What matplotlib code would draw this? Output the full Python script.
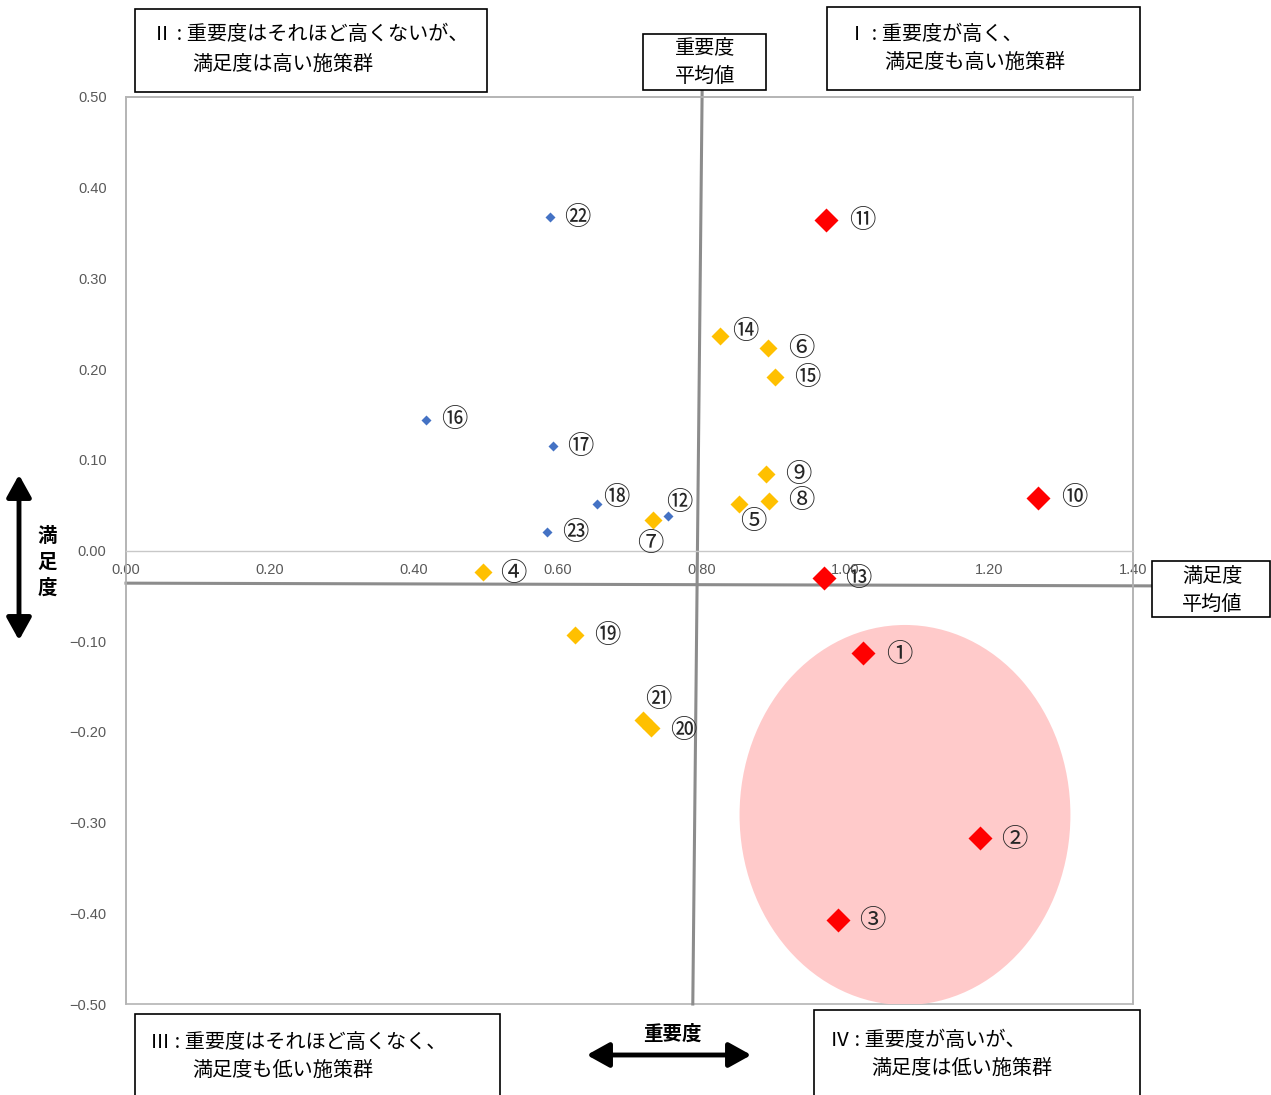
import matplotlib
matplotlib.use("Agg")
import matplotlib.pyplot as plt
from matplotlib.patches import Ellipse, Rectangle, FancyArrowPatch

plt.rcParams['font.family'] = ['Noto Sans CJK JP', 'DejaVu Sans']

# ---------------- data ----------------
red_labels = ['①', '②', '③', '⑩', '⑪', '⑬']
red_x = [1.025, 1.187, 0.990, 1.268, 0.973, 0.970]
red_y = [-0.113, -0.317, -0.407, 0.058, 0.364, -0.030]

yellow_labels = ['④', '⑤', '⑥', '⑦', '⑧', '⑨', '⑭', '⑮', '⑲', '⑳', '㉑']
yellow_x = [0.496, 0.852, 0.893, 0.733, 0.894, 0.890, 0.826, 0.902, 0.624, 0.730, 0.719]
yellow_y = [-0.024, 0.051, 0.223, 0.034, 0.055, 0.084, 0.236, 0.191, -0.093, -0.196, -0.187]

blue_labels = ['⑫', '⑯', '⑰', '⑱', '㉒', '㉓']
blue_x = [0.753, 0.417, 0.594, 0.655, 0.589, 0.585]
blue_y = [0.038, 0.144, 0.115, 0.051, 0.368, 0.020]

x_ticks = [0.0, 0.2, 0.4, 0.6, 0.8, 1.0, 1.2, 1.4]
y_ticks = [-0.5, -0.4, -0.3, -0.2, -0.1, 0.0, 0.1, 0.2, 0.3, 0.4, 0.5]

# average lines (importance mean, satisfaction mean) as drawn in the source
imp_mean_x = [0.801, 0.788]
imp_mean_y = [0.508, -0.5]
sat_mean_x = [0.0, 1.426]
sat_mean_y = [-0.036, -0.039]

# label offsets in pixels (style)
offsets = {
    '①': (36, -2), '②': (34, -1), '③': (34, -1), '④': (31, -1), '⑤': (14, -17),
    '⑥': (33, 0), '⑦': (-3, -24), '⑧': (32, 0), '⑨': (32, 0), '⑩': (36, 0),
    '⑪': (36, 0), '⑫': (12, 14), '⑬': (35, -1), '⑭': (25, 5), '⑮': (32, 0),
    '⑯': (28, 0), '⑰': (27, 0), '⑱': (19, 7), '⑲': (32, -1), '⑳': (32, -2),
    '㉑': (15, 21), '㉒': (28, -1), '㉓': (28, 0),
}

W, H = 1271, 1095
fig = plt.figure(figsize=(W / 100, H / 100), dpi=100)
ax = fig.add_axes([126 / W, 1 - 1004 / H, (1133 - 126) / W, (1004 - 97) / H])
ax.set_xlim(0, 1.4)
ax.set_ylim(-0.5, 0.5)

spine_c = '#b4b4b4'
for s in ax.spines.values():
    s.set_color(spine_c)
    s.set_linewidth(1.2)
ax.spines['bottom'].set_position(('data', 0))
ax.spines['bottom'].set_color('#c8c8c8')
ax.spines['bottom'].set_linewidth(1.0)
# outer frame bottom edge
ax.add_patch(Rectangle((0, 0), 1, 1, transform=ax.transAxes, fill=False,
                       edgecolor=spine_c, lw=1.2, clip_on=False, zorder=0.5))

ax.set_yticks(y_ticks)
ax.set_yticklabels([f"{v:.2f}".replace('-', '\u2212') for v in y_ticks])
ax.tick_params(axis='y', length=0, pad=14, labelsize=10.5, labelcolor='#595959')
ax.set_xticks(x_ticks)
ax.set_xticklabels([f"{v:.2f}" for v in x_ticks])
ax.tick_params(axis='x', length=0, pad=9, labelsize=10.5, labelcolor='#595959')
for t in ax.get_yticklabels() + ax.get_xticklabels():
    t.set_fontfamily(['Liberation Sans', 'DejaVu Sans'])

# highlight ellipse
ax.add_patch(Ellipse((1.083, -0.2916), 0.460, 0.419, facecolor='#ffcaca',
                     edgecolor='none', zorder=1))

# mean lines
ax.plot(imp_mean_x, imp_mean_y, color='#8c8c8c', lw=2.2, clip_on=False, zorder=2)
ax.plot(sat_mean_x, sat_mean_y, color='#8c8c8c', lw=2.2, clip_on=False, zorder=2)

# points
ax.plot(red_x, red_y, 'D', color='#ff0000', markersize=12.5, mec='none', zorder=4, clip_on=False)
ax.plot(yellow_x, yellow_y, 'D', color='#ffc000', markersize=9.5, mec='none', zorder=4, clip_on=False)
ax.plot(blue_x, blue_y, 'D', color='#4472c4', markersize=5.2, mec='none', zorder=4, clip_on=False)

for labs, xs, ys in [(red_labels, red_x, red_y), (yellow_labels, yellow_x, yellow_y),
                     (blue_labels, blue_x, blue_y)]:
    for lab, xv, yv in zip(labs, xs, ys):
        dx, dy = offsets[lab]
        ax.annotate(lab, (xv, yv), xytext=(dx * 0.72, dy * 0.72), textcoords='offset points',
                    ha='center', va='center', fontsize=19, color='#262626', zorder=5)


def P(x, y):
    return x / W, 1 - y / H


def box(x0, y0, x1, y1):
    fig.patches.append(Rectangle(P(x0, y1), (x1 - x0) / W, (y1 - y0) / H,
                                 transform=fig.transFigure, facecolor='white',
                                 edgecolor='black', lw=1.2, zorder=3))


fs = 14.5
box(135, 9, 487, 92)
fig.text(*P(152, 35), 'Ⅱ : 重要度はそれほど高くないが、', fontsize=fs, va='center', ha='left', zorder=6)
fig.text(*P(192, 64), '満足度は高い施策群', fontsize=fs, va='center', ha='left', zorder=6)

box(643, 34, 766, 90)
fig.text(*P(705, 48), '重要度', fontsize=fs, va='center', ha='center', zorder=6)
fig.text(*P(705, 76), '平均値', fontsize=fs, va='center', ha='center', zorder=6)

box(827, 7, 1140, 90)
fig.text(*P(847, 34), 'Ⅰ : 重要度が高く、', fontsize=fs, va='center', ha='left', zorder=6)
fig.text(*P(884, 62), '満足度も高い施策群', fontsize=fs, va='center', ha='left', zorder=6)

box(1152, 561, 1270, 617)
fig.text(*P(1212, 577), '満足度', fontsize=fs, va='center', ha='center', zorder=6)
fig.text(*P(1212, 604), '平均値', fontsize=fs, va='center', ha='center', zorder=6)

box(135, 1014, 500, 1100)
fig.text(*P(150, 1042), 'Ⅲ : 重要度はそれほど高くなく、', fontsize=fs, va='center', ha='left', zorder=6)
fig.text(*P(192, 1070), '満足度も低い施策群', fontsize=fs, va='center', ha='left', zorder=6)

box(814, 1010, 1140, 1100)
fig.text(*P(830, 1040), 'Ⅳ : 重要度が高いが、', fontsize=fs, va='center', ha='left', zorder=6)
fig.text(*P(871, 1068), '満足度は低い施策群', fontsize=fs, va='center', ha='left', zorder=6)

# axis titles with arrows
for i, ch in enumerate('満足度'):
    fig.text(*P(47, 537 + 25.5 * i), ch, fontsize=14, fontweight='bold', va='center', ha='center')
fig.text(*P(672, 1034), '重要度', fontsize=14, fontweight='bold', va='center', ha='center')
fig.patches.append(FancyArrowPatch(P(19, 643), P(19, 472), transform=fig.transFigure,
                   arrowstyle='<|-|>,head_length=9,head_width=5', color='black', lw=3.5,
                   mutation_scale=1.5))
fig.patches.append(FancyArrowPatch(P(584, 1055), P(754, 1055), transform=fig.transFigure,
                   arrowstyle='<|-|>,head_length=9,head_width=5', color='black', lw=3.5,
                   mutation_scale=1.5))

fig.savefig('out.png', dpi=100)
